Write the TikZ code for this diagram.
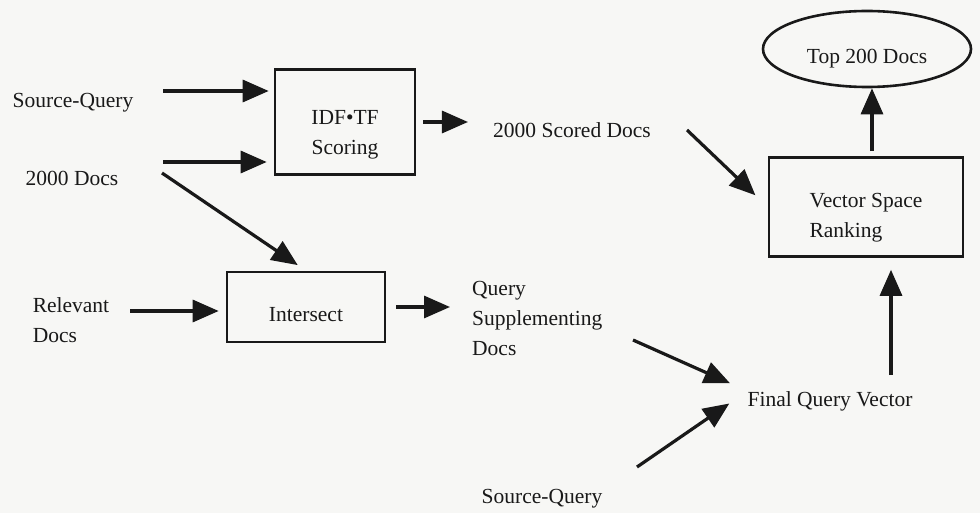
\documentclass[tikz,border=0pt]{standalone}
\usepackage{fontspec}
\setmainfont{Liberation Serif}
\usetikzlibrary{arrows.meta,shapes.geometric}
\definecolor{paper}{RGB}{247,247,245}
\definecolor{ink}{RGB}{25,25,25}

\begin{document}
\begin{tikzpicture}[x=1pt, y=-1pt, ink,
    every node/.style={font=\fontsize{21.5}{30}\selectfont, inner sep=0pt},
    box/.style={draw, line width=2.6pt},
    arr/.style={line width=3.2pt, -{Triangle[length=26pt,width=22pt]}}]
            \fill[paper] (0,0) rectangle (980,513);
            \useasboundingbox (0,0) rectangle (980,513);

            \node (sq1) at (73,103) {Source-Query};
            \node (docs) at (72,178) {2000 Docs};
            \node[align=left] (rel) at (71,320) {Relevant\\Docs};
            \node[box, minimum width=140pt, minimum height=105pt,
                label={[align=center, yshift=-13pt]center:IDF•TF\\Scoring}] (idf) at (345,122) {};
            \node[box, minimum width=158pt, minimum height=70pt,
                label={[yshift=-8pt]center:Intersect}] (isect) at (306,307) {};
            \node (scored) at (572,130) {2000 Scored Docs};
            \node[align=left, anchor=west] (qs) at (472,318) {Query\\Supplementing\\Docs};
            \node[box, minimum width=194pt, minimum height=99pt,
                label={[align=left, yshift=-11pt]center:Vector Space\\Ranking}] (vs) at (866,207) {};
            \node[box, ellipse, minimum width=208pt, minimum height=76pt,
                label={[yshift=-10pt]center:Top 200 Docs}] (top) at (867,49) {};
            \node (fq) at (830,401) {Final Query Vector};
            \node (sq2) at (542,499) {Source-Query};

            \coordinate (t1) at (163,91);
            \coordinate (t2) at (163,162);
            \coordinate (t3) at (162,173);
            \coordinate (t5) at (130,311);
            \coordinate (t7) at (687,130);
            \coordinate (t8) at ([xshift=5pt]top.south);
            \coordinate (t9) at (891,375);
            \coordinate (t10) at (633,340);
            \coordinate (t11) at (637,467);

            \draw[arr, shorten >=5pt] (t1) -- (t1 -| idf.west);
            \draw[arr, shorten >=7pt] (t2) -- (t2 -| idf.west);
            \draw[arr, shorten >=10pt] (t3) -- (isect.north);
            \draw[arr, shorten <=7pt, shorten >=25pt] (idf.east) -- (idf.east -| scored.west);
            \draw[arr, shorten >=7pt] (t5) -- (t5 -| isect.west);
            \draw[arr, shorten <=10pt, shorten >=22pt] (isect.east) -- (isect.east -| qs.west);
            \draw[arr, shorten >=17pt] (t7) -- (vs.west);
            \draw[arr, shorten <=5pt] (t8 |- vs.north) -- (t8);
            \draw[arr, shorten >=12pt] (t9) -- (t9 |- vs.south);
            \draw[arr, shorten >=19pt] (t10) -- (fq.north west);
            \draw[arr, shorten >=22pt] (t11) -- (fq.north west);
        \end{tikzpicture}
\end{document}
